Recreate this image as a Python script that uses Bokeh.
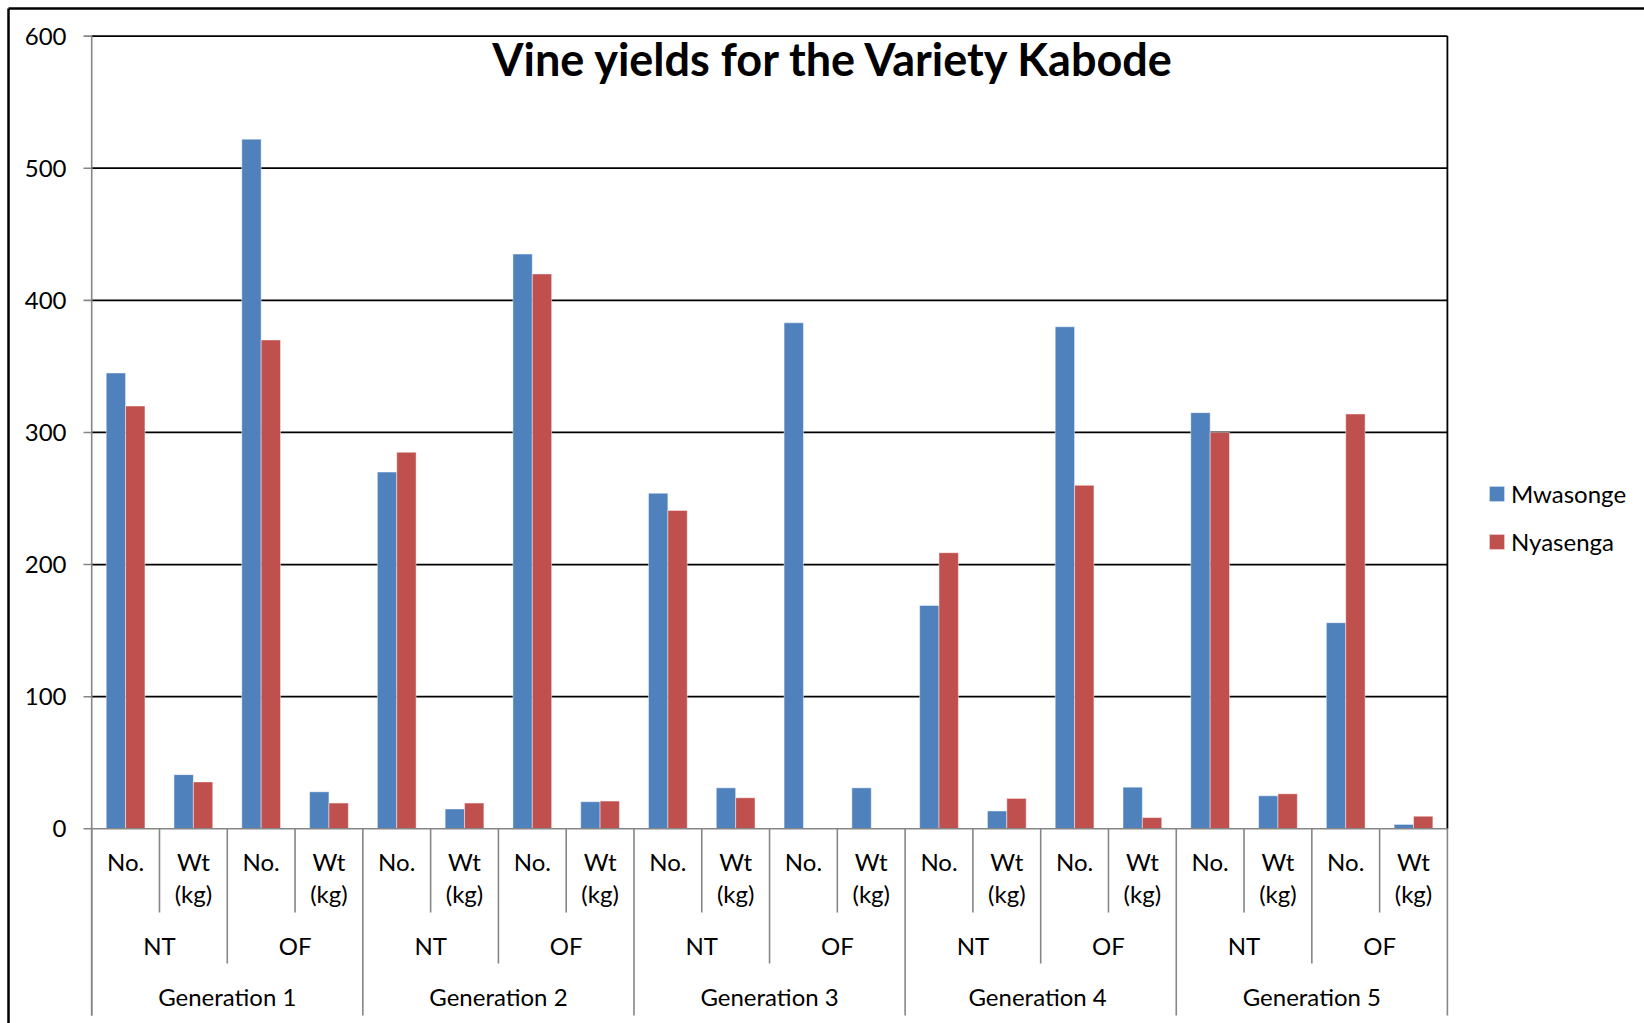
import numpy as np
from bokeh.plotting import figure
from bokeh.models import Range1d, Legend, LegendItem
from bokeh.core.properties import value
from bokeh.embed import file_html
from bokeh.resources import INLINE

# ---------------- data ----------------
generations = ["Generation 1", "Generation 2", "Generation 3", "Generation  4", "Generation 5"]
sites = ["NT", "OF"]
measures = ["No.", "Wt\n(kg)"]
series_names = ["Mwasonge", "Nyasenga"]
mwasonge = [345, 41, 522, 28, 270, 15, 435, 20.5, 254, 31,
            383, 31, 169, 13.5, 380, 31.5, 315, 25, 156, 3.3]
nyasenga = [320, 35.5, 370, 19.5, 285, 19.5, 420, 21, 241, 23.5,
            0, 0, 209, 23, 260, 8.5, 300, 26.5, 314, 9.5]
y_ticks = [0, 100, 200, 300, 400, 500, 600]
title_text = "Vine yields for the Variety Kabode"

# ---------------- geometry (screen px -> data) ----------------
W, H = 1644, 1023
PX_LEFT, PX_RIGHT = 91.2, 1446.9
PY0, PY600 = 828.3, 35.6
n_cat = len(generations) * len(sites) * len(measures)
ux = (PX_RIGHT - PX_LEFT) / n_cat
uy = (PY0 - PY600) / y_ticks[-1]


def xd(px):
    return (px - PX_LEFT) / ux


def yd(py):
    return (PY0 - py) / uy


FONT = "Lato"
BLUE, RED = "#4F81BD", "#C0504D"
GREY = "#868686"

p = figure(width=W, height=H, output_backend="svg", toolbar_location=None,
           x_range=Range1d(xd(0), xd(W)), y_range=Range1d(yd(H), yd(0)),
           x_axis_type=None, y_axis_type=None, min_border=0,
           title=None)
p.outline_line_color = None
p.grid.visible = False
p.background_fill_color = "white"
p.border_fill_color = "white"

# outer chart border (top + left)
p.segment(x0=[xd(8), xd(8)], y0=[yd(8), yd(8)], x1=[xd(W + 5), xd(8)], y1=[yd(8), yd(H + 5)],
          line_color="black", line_width=2.5)

# gridlines + plot-area border
top = y_ticks[-1]
grid_y = y_ticks[1:]
p.segment(x0=[0] * len(grid_y), y0=grid_y, x1=[n_cat] * len(grid_y), y1=grid_y,
          line_color="black", line_width=1.8)
p.segment(x0=[n_cat], y0=[0], x1=[n_cat], y1=[top], line_color="black", line_width=1.8)

# bars
idx = np.arange(n_cat)
bar_w = 1 / 3.5
r_blue = p.vbar(x=idx + 0.5 - bar_w / 2, top=mwasonge, bottom=0, width=bar_w,
                fill_color=BLUE, line_color="white", line_alpha=0.45, line_width=1)
r_red = p.vbar(x=idx + 0.5 + bar_w / 2, top=nyasenga, bottom=0, width=bar_w,
               fill_color=RED, line_color="white", line_alpha=0.45, line_width=1)

# axes lines
p.segment(x0=[0], y0=[top], x1=[0], y1=[yd(1015)], line_color=GREY, line_width=1.6)
p.segment(x0=[0], y0=[0], x1=[n_cat], y1=[0], line_color=GREY, line_width=1.6)
p.segment(x0=[xd(83)] * len(y_ticks), y0=y_ticks, x1=[0] * len(y_ticks), y1=y_ticks,
          line_color=GREY, line_width=1.6)

# category separators
sep_x, sep_y1 = [], []
for k in range(n_cat + 1):
    if k % 4 == 0:
        d = 1015
    elif k % 2 == 0:
        d = 963
    else:
        d = 912
    sep_x.append(k)
    sep_y1.append(yd(d))
p.segment(x0=sep_x, y0=[0] * len(sep_x), x1=sep_x, y1=sep_y1, line_color=GREY, line_width=1.6)

# y tick labels
p.text(x=[xd(66)] * len(y_ticks), y=y_ticks, text=[str(t) for t in y_ticks],
       text_align="right", text_baseline="middle", text_font=value(FONT),
       text_font_size="24px", text_color="black")

# level 1 labels
l1_x, l1_y, l1_t = [], [], []
for k in range(n_cat):
    lines = measures[k % 2].split("\n")
    for j, ln in enumerate(lines):
        l1_x.append(k + 0.5)
        l1_y.append(yd(861 + 32 * j))
        l1_t.append(ln)
p.text(x=l1_x, y=l1_y, text=l1_t, text_align="center", text_baseline="middle",
       text_font=value(FONT), text_font_size="24px", text_color="black")

# level 2 labels
n2 = len(generations) * len(sites)
p.text(x=[2 * j + 1 for j in range(n2)], y=[yd(945)] * n2,
       text=[sites[j % 2] for j in range(n2)], text_align="center", text_baseline="middle",
       text_font=value(FONT), text_font_size="24px", text_color="black")

# level 3 labels
p.text(x=[4 * g + 2 for g in range(len(generations))], y=[yd(996)] * len(generations),
       text=generations, text_align="center", text_baseline="middle",
       text_font=value(FONT), text_font_size="24px", text_color="black")

# title
p.text(x=[xd(834)], y=[yd(58)], text=[title_text], text_align="center", text_baseline="middle",
       text_font=value(FONT), text_font_style="bold", text_font_size="45px", text_color="black")

# legend
legend = Legend(items=[LegendItem(label=series_names[0], renderers=[r_blue]),
                       LegendItem(label=series_names[1], renderers=[r_red])],
                location=(1487, 467), orientation="vertical",
                glyph_width=19, glyph_height=19, label_standoff=5, spacing=19,
                padding=0, margin=0, border_line_color=None, background_fill_alpha=0,
                label_text_font=FONT, label_text_font_size="24px", label_text_color="black")
p.add_layout(legend, "center")

open("out.html", "w").write(file_html(p, INLINE))
